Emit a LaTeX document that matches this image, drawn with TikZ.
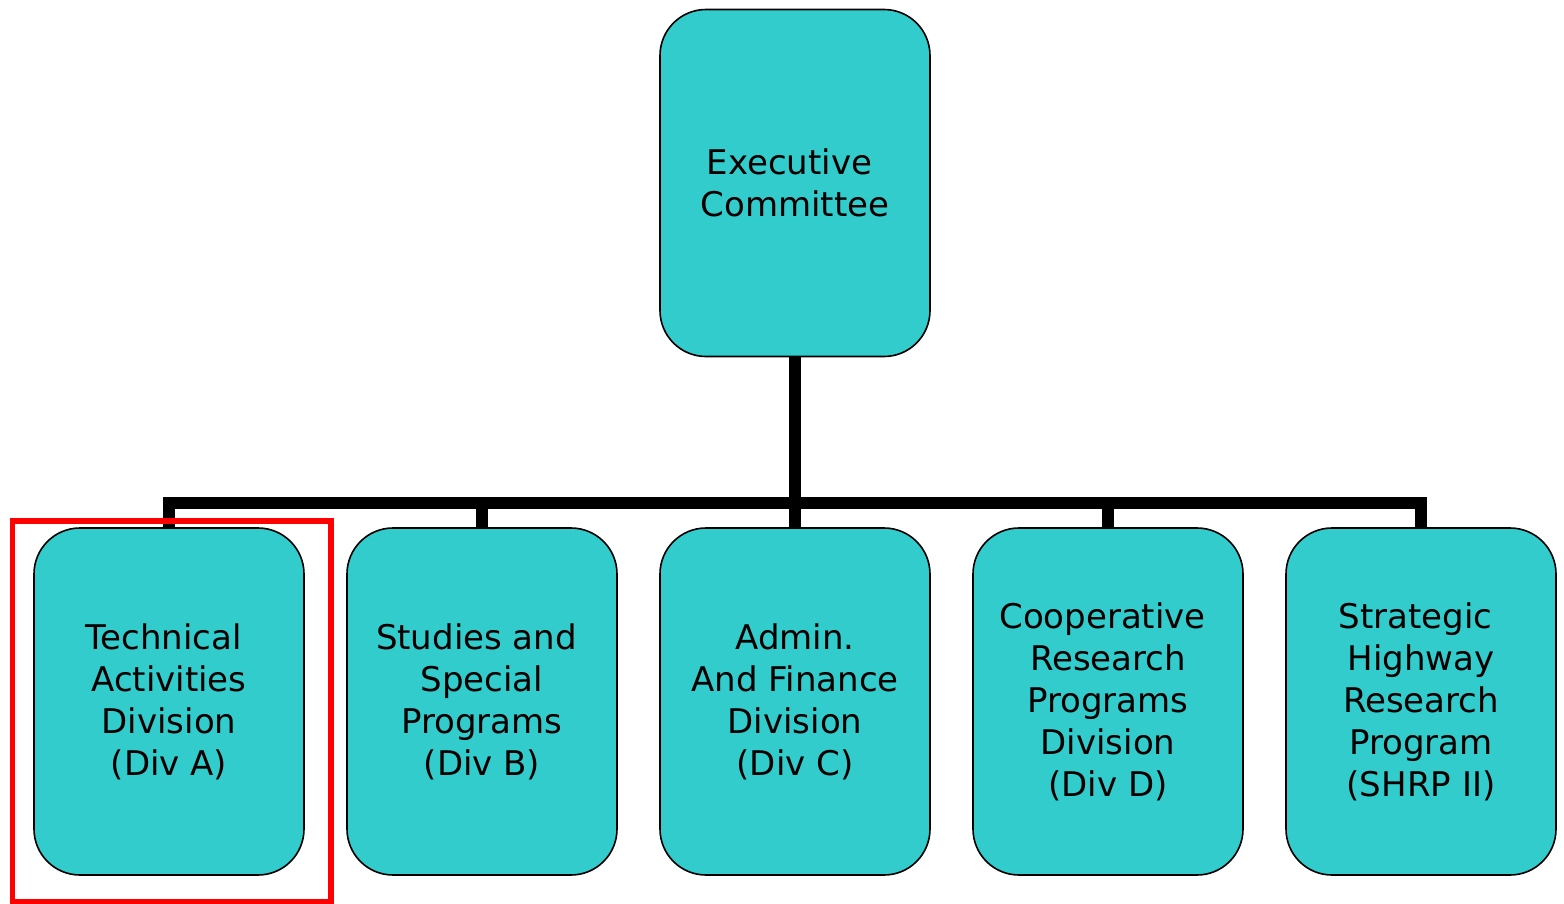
\documentclass[tikz,border=0pt]{standalone}
\usepackage{fontspec}
\setmainfont{DejaVu Sans}
\usetikzlibrary{backgrounds}
\definecolor{boxfill}{HTML}{33CCCC}
\definecolor{hlred}{HTML}{FF0000}
\newcommand\tsp{\hspace*{5.5pt}}
\tikzset{
  orgbox/.style={draw=black, line width=0.8pt, fill=boxfill, rounded corners=23pt,
    minimum width=135pt, minimum height=173.5pt, inner sep=0pt, align=center,
    font=\fontsize{17pt}{21pt}\selectfont, text=black},
  conn/.style={draw=black, line width=6pt, line join=miter},
  hlbox/.style={draw=hlred, line width=2.6pt}
}
\begin{document}
\begin{tikzpicture}[x=0.5pt, y=-0.5pt]
\useasboundingbox (0,0) rectangle (1564,904);
\node[orgbox] (exec) at (795,183) {Executive\tsp\\Committee};
\node[orgbox] (diva) at (169,701.5) {Technical\tsp\\Activities\\Division\\(Div A)};
\node[orgbox] (divb) at (482,701.5) {Studies and\tsp\\Special\tsp\\Programs\\(Div B)};
\node[orgbox] (divc) at (795,701.5) {Admin.\\And Finance\tsp\\Division\\(Div C)};
\node[orgbox] (divd) at (1108,701.5) {Cooperative\tsp\\Research\tsp\\Programs\\Division\\(Div D)};
\node[orgbox] (shrp) at (1421,701.5) {Strategic\tsp\\Highway\\Research\tsp\\Program\tsp\\(SHRP II)};
\coordinate (bus) at (795,503);
\begin{scope}[on background layer]
\draw[conn] (diva.north) -- (diva.north |- bus) -- (shrp.north |- bus) -- (shrp.north);
\draw[conn] (exec.south) -- (divc.north);
\draw[conn] (divb.north |- bus) -- (divb.north);
\draw[conn] (divd.north |- bus) -- (divd.north);
\end{scope}
\draw[hlbox] (12.5,521) rectangle (331,902);
\end{tikzpicture}
\end{document}
